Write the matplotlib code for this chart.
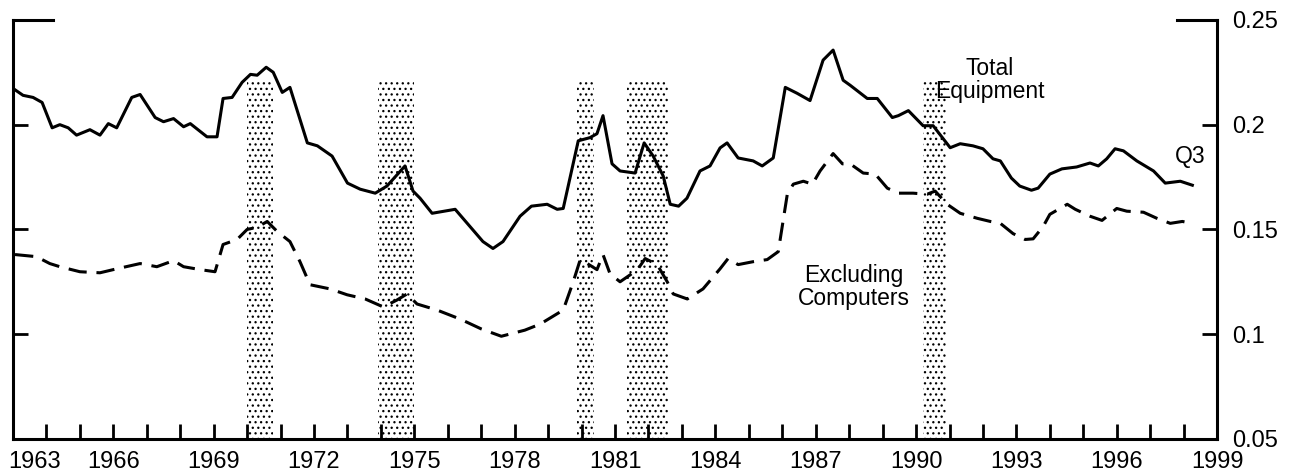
import matplotlib.pyplot as plt
import matplotlib.transforms as mtransforms

plt.rcParams['font.family'] = ['Liberation Sans', 'DejaVu Sans']
plt.rcParams['hatch.linewidth'] = 0.9

# Total equipment (solid line)
total_years = [1963.0, 1963.3, 1963.6, 1963.87, 1964.17, 1964.4, 1964.65, 1964.9, 1965.3, 1965.6,
               1965.85, 1966.1, 1966.55, 1966.8, 1967.25, 1967.5, 1967.8, 1968.1, 1968.3, 1968.8,
               1969.1, 1969.28, 1969.55, 1969.85, 1970.1, 1970.3, 1970.57, 1970.78, 1971.05, 1971.28,
               1971.8, 1972.1, 1972.54, 1973.0, 1973.38, 1973.83, 1974.18, 1974.72, 1974.96, 1975.17,
               1975.53, 1976.22, 1977.05, 1977.35, 1977.65, 1978.16, 1978.5, 1978.97, 1979.27, 1979.45,
               1979.9, 1980.25, 1980.46, 1980.64, 1980.91, 1981.15, 1981.6, 1981.87, 1982.14, 1982.44,
               1982.65, 1982.9, 1983.15, 1983.54, 1983.84, 1984.14, 1984.35, 1984.68, 1985.13, 1985.4,
               1985.73, 1986.09, 1986.44, 1986.83, 1987.22, 1987.52, 1987.82, 1988.03, 1988.54, 1988.84,
               1989.29, 1989.47, 1989.77, 1990.21, 1990.51, 1991.02, 1991.32, 1991.7, 1992.0, 1992.3,
               1992.52, 1992.85, 1993.1, 1993.45, 1993.65, 1994.0, 1994.36, 1994.8, 1995.2, 1995.45,
               1995.7, 1995.95, 1996.2, 1996.6, 1997.1, 1997.45, 1997.9, 1998.26]
total_vals = [0.2173, 0.214, 0.213, 0.2106, 0.1985, 0.200, 0.1985, 0.195, 0.1976, 0.195,
              0.2005, 0.1985, 0.213, 0.2144, 0.2034, 0.2014, 0.2029, 0.199, 0.2005, 0.1942,
              0.1942, 0.2125, 0.213, 0.2202, 0.2240, 0.2236, 0.2274, 0.225, 0.2154, 0.2178,
              0.1913, 0.1899, 0.185, 0.1721, 0.1692, 0.1673, 0.1707, 0.1803, 0.1683, 0.1649,
              0.1577, 0.1596, 0.1442, 0.1409, 0.1442, 0.1563, 0.1611, 0.162, 0.1596, 0.160,
              0.1923, 0.1938, 0.1957, 0.2043, 0.1813, 0.1779, 0.1769, 0.1913, 0.185, 0.1755,
              0.162, 0.1611, 0.1649, 0.1779, 0.1803, 0.1889, 0.1913, 0.1841, 0.1827, 0.1803,
              0.1841, 0.2178, 0.215, 0.2115, 0.2308, 0.2356, 0.2212, 0.2188, 0.2125, 0.2125,
              0.2034, 0.2043, 0.2067, 0.1995, 0.1995, 0.189, 0.1909, 0.1899, 0.1885, 0.1837,
              0.1827, 0.1745, 0.1707, 0.1687, 0.1697, 0.1764, 0.1789, 0.1798, 0.1817, 0.1803,
              0.1837, 0.1885, 0.1875, 0.1827, 0.1779, 0.1721, 0.173, 0.1711]

# Excluding computers (dashed line)
excl_years = [1963.06, 1963.7, 1964.1, 1964.4, 1965.0, 1965.6, 1966.1, 1966.8, 1967.3, 1967.8,
              1968.1, 1968.6, 1969.04, 1969.28, 1969.7, 1970.0, 1970.3, 1970.6, 1970.9, 1971.28,
              1971.58, 1971.88, 1972.48, 1972.99, 1973.53, 1974.07, 1974.48, 1974.78, 1975.08, 1975.68,
              1976.37, 1977.0, 1977.6, 1978.3, 1978.76, 1979.45, 1979.75, 1979.96, 1980.17, 1980.46,
              1980.64, 1980.85, 1981.15, 1981.45, 1981.69, 1981.9, 1982.26, 1982.56, 1982.74, 1983.16,
              1983.63, 1984.14, 1984.38, 1984.68, 1985.13, 1985.55, 1985.88, 1986.15, 1986.33, 1986.63,
              1986.9, 1987.13, 1987.52, 1987.8, 1988.03, 1988.42, 1988.78, 1989.14, 1989.47, 1989.91,
              1990.33, 1990.57, 1990.93, 1991.32, 1991.83, 1992.22, 1992.52, 1992.9, 1993.26, 1993.5,
              1993.8, 1994.0, 1994.52, 1994.76, 1995.2, 1995.56, 1996.0, 1996.3, 1996.8, 1997.2,
              1997.6, 1997.96, 1998.26]
excl_vals = [0.138, 0.137, 0.1337, 0.1322, 0.1298, 0.1293, 0.1312, 0.1337, 0.1322, 0.1351,
             0.1322, 0.1308, 0.1298, 0.1428, 0.1452, 0.150, 0.151, 0.1538, 0.149, 0.1442,
             0.1346, 0.1236, 0.1216, 0.1188, 0.1168, 0.113, 0.1163, 0.1192, 0.1144, 0.1115,
             0.1072, 0.1025, 0.099, 0.1019, 0.1048, 0.1115, 0.125, 0.1356, 0.1337, 0.1308,
             0.138, 0.1288, 0.125, 0.1283, 0.1312, 0.1361, 0.1332, 0.125, 0.1192, 0.1168,
             0.1216, 0.1312, 0.1361, 0.1332, 0.1346, 0.1356, 0.1394, 0.1668, 0.1716, 0.173,
             0.1716, 0.1779, 0.1862, 0.1813, 0.1813, 0.1769, 0.1764, 0.1697, 0.1673, 0.1673,
             0.1668, 0.1683, 0.162, 0.1577, 0.1553, 0.1538, 0.1529, 0.148, 0.1452, 0.1455,
             0.1514, 0.1572, 0.162, 0.1596, 0.1563, 0.1543, 0.16, 0.1587, 0.1582, 0.1553,
             0.1529, 0.1538, 0.1529]

# recession periods (shaded)
rec_start = [1970.0, 1973.9, 1979.87, 1981.36, 1990.2]
rec_end = [1970.78, 1975.0, 1980.37, 1982.59, 1990.9]
rec_top = 0.221

xtick_labels = [1963, 1966, 1969, 1972, 1975, 1978, 1981, 1984, 1987, 1990, 1993, 1996, 1999]
yticks = [0.05, 0.1, 0.15, 0.2, 0.25]
ytick_labels = ['0.05', '0.1', '0.15', '0.2', '0.25']

fig = plt.figure(figsize=(13.01, 4.74), dpi=100)
ax = fig.add_axes([0.010, 0.074, 0.9255, 0.884])

for s, e in zip(rec_start, rec_end):
    ax.fill_between([s, e], 0.05, rec_top, facecolor='none', edgecolor='black',
                    hatch='...', linewidth=0)

ax.plot(total_years, total_vals, color='black', lw=2.2)
ax.plot(excl_years, excl_vals, color='black', lw=2.2, dashes=(6, 3.2))

ax.set_xlim(1963, 1999)
ax.set_ylim(0.05, 0.25)

ax.spines['top'].set_visible(False)
for sp in ['left', 'right', 'bottom']:
    ax.spines[sp].set_linewidth(2.2)

ax.set_xticks(xtick_labels)
ax.set_xticks(range(1963, 2000), minor=True)
ax.set_xticklabels([str(y) for y in xtick_labels])
ax.tick_params(axis='x', which='both', direction='in', length=11, width=2, pad=9, labelsize=17)
lab0 = ax.get_xticklabels()[0]
lab0.set_horizontalalignment('left')
off = mtransforms.ScaledTranslation(-0.05, 0, fig.dpi_scale_trans)
lab0.set_transform(lab0.get_transform() + off)

ax.yaxis.tick_right()
ax.set_yticks(yticks)
ax.set_yticklabels(ytick_labels)
ax.tick_params(axis='y', which='both', direction='in', length=11, width=2, pad=11,
               labelsize=17, left=True, right=True, labelleft=False, labelright=True)

# long top ticks on both sides
ax.plot([0, 0.033], [1, 1], transform=ax.transAxes, color='black', lw=2.2, clip_on=False)
ax.plot([0.967, 1], [1, 1], transform=ax.transAxes, color='black', lw=2.2, clip_on=False)

ax.text(1992.2, 0.2214, 'Total\nEquipment', ha='center', va='center', fontsize=16.5,
        linespacing=1.0)
ax.text(1988.15, 0.1223, 'Excluding\nComputers', ha='center', va='center', fontsize=16.5,
        linespacing=1.0)
ax.text(1998.2, 0.1846, 'Q3', ha='center', va='center', fontsize=16.5)

fig.savefig('out.png', dpi=100)
